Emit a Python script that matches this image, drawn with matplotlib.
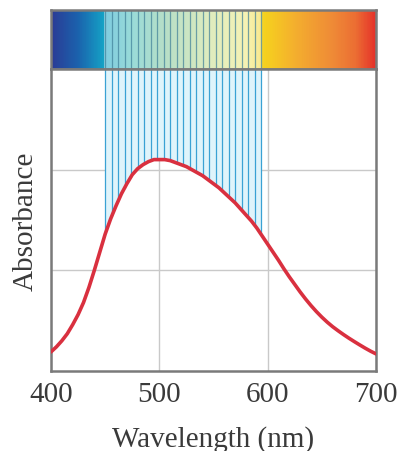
import matplotlib.pyplot as plt
import numpy as np
from matplotlib.colors import LinearSegmentedColormap

# absorbance curve (arbitrary units, grid at 1 and 2)
wavelength = list(range(400, 701, 5))
absorbance = [0.19, 0.24, 0.30, 0.37, 0.46, 0.56, 0.68, 0.83, 1.00, 1.18,
              1.36, 1.51, 1.64, 1.76, 1.86, 1.95, 2.01, 2.05, 2.08, 2.10,
              2.10, 2.10, 2.09, 2.07, 2.05, 2.03, 2.00, 1.97, 1.94, 1.90,
              1.86, 1.82, 1.77, 1.72, 1.67, 1.61, 1.55, 1.49, 1.42, 1.34,
              1.26, 1.18, 1.10, 1.015, 0.935, 0.86, 0.785, 0.715, 0.65, 0.59,
              0.535, 0.485, 0.44, 0.40, 0.362, 0.326, 0.292, 0.259, 0.227, 0.197,
              0.17]

# absorbed band drawn as thin lines
band_lines = list(range(450, 595, 6))
x_ticks = [400, 500, 600, 700]

spectrum_cmap = LinearSegmentedColormap.from_list(
    "spectrum",
    [(0.00, "#2b3c96"), (0.08, "#1b62ad"), (0.16, "#15a2c6"),
     (0.25, "#49bfb9"), (0.35, "#7cc59a"), (0.48, "#c2dc8c"),
     (0.60, "#efe978"), (0.66, "#f6d11e"), (0.75, "#f4b02e"),
     (0.87, "#ef8a37"), (0.94, "#ec6e33"), (1.00, "#e5332a")],
)

plt.rcParams["font.family"] = ["Liberation Serif", "DejaVu Serif"]
fig = plt.figure(figsize=(4.03, 4.52), dpi=100)

frame_color = "#7a7a7a"
text_color = "#3a3a3a"

# spectrum strip on top
spec_ax = fig.add_axes([51 / 403, 1 - 70 / 452, 325 / 403, 59 / 452])
grad = np.linspace(0, 1, 400).reshape(1, -1)
spec_ax.imshow(grad, aspect="auto", cmap=spectrum_cmap,
               extent=[400, 700, 0, 1])
spec_ax.axvspan(band_lines[0] - 1, band_lines[-1] + 1, color="white", alpha=0.45, lw=0)
spec_ax.vlines(band_lines, 0, 1, color="#3f7f98", lw=0.9, alpha=0.7)
spec_ax.set_xlim(400, 700)
spec_ax.set_ylim(0, 1)
spec_ax.set_xticks([])
spec_ax.set_yticks([])
for s in spec_ax.spines.values():
    s.set_color(frame_color)
    s.set_linewidth(1.8)

# main absorbance plot
ax = fig.add_axes([51 / 403, 80 / 452, 325 / 403, 302 / 452])
ax.set_xlim(400, 700)
ax.set_ylim(0, 3)

band = np.array(band_lines)
band_bottom = np.interp(band, wavelength, absorbance)
fill_x = np.array([w for w in wavelength if band[0] <= w <= band[-1]])
fill_x = np.concatenate([[band[0]], fill_x, [band[-1]]])
ax.fill_between(fill_x, np.interp(fill_x, wavelength, absorbance), 3,
                color="#dff4fb", lw=0, zorder=1)
ax.vlines(band, band_bottom, 3, color="#3aa2d4", lw=0.9, zorder=2)

ax.plot(wavelength, absorbance, color="#d9303f", lw=2.6, zorder=4,
        solid_capstyle="round", solid_joinstyle="round")

ax.set_xticks(x_ticks)
ax.set_yticks([1, 2])
ax.set_yticklabels([])
ax.tick_params(axis="both", length=0, labelsize=21, colors=text_color, pad=7)
ax.grid(True, color="#c9c9c9", lw=1.0, zorder=0)
ax.set_axisbelow(True)
for s in ax.spines.values():
    s.set_color(frame_color)
    s.set_linewidth(1.8)

ax.set_xlabel("Wavelength (nm)", fontsize=21, color=text_color, labelpad=13)
ax.set_ylabel("Absorbance", fontsize=21, color=text_color, labelpad=2)

fig.savefig("out.png", dpi=100)
